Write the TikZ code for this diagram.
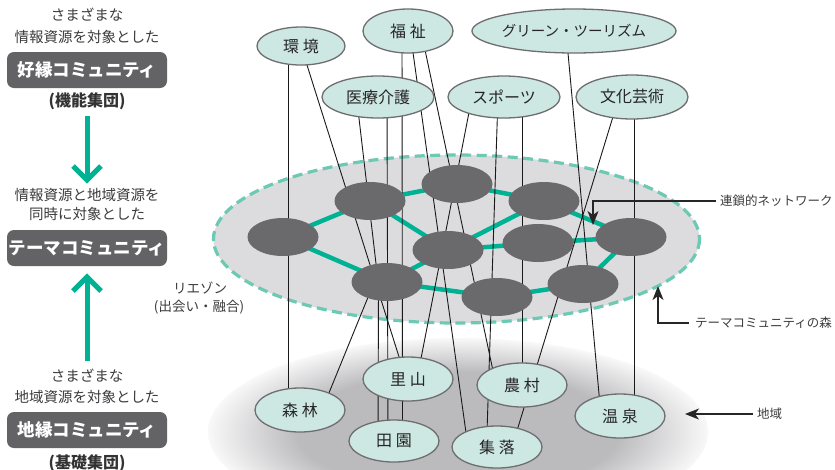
\documentclass[tikz,border=0pt]{standalone}
\usepackage{fontspec}
\setmainfont{Noto Sans CJK JP}
\usetikzlibrary{shapes.geometric,arrows.meta,calc}

\definecolor{themefill}{HTML}{CDE7E2}
\definecolor{themeedge}{HTML}{6E6E70}
\definecolor{nodegray}{HTML}{6A6A6D}
\definecolor{boxgray}{HTML}{636366}
\definecolor{tealline}{HTML}{00B294}
\definecolor{dashteal}{HTML}{6CC9B4}
\definecolor{forestfill}{HTML}{DCDCDE}
\definecolor{shadowc}{HTML}{BBBBBE}
\definecolor{txt}{HTML}{3C3C3E}

\pgfdeclareradialshading{regionshade}{\pgfpointorigin}{color(0bp)=(shadowc); color(16bp)=(shadowc); color(26bp)=(white); color(50bp)=(white)}

\pgfdeclarelayer{bg}
\pgfdeclarelayer{mid}
\pgfsetlayers{bg,mid,main}

\tikzset{
  theme/.style={ellipse, fill=themefill, draw=themeedge, line width=1.3pt, inner sep=0pt, text=black!85, font=\fontsize{16}{18}\selectfont},
  comm/.style={ellipse, fill=nodegray, inner sep=0pt, minimum width=71pt, minimum height=38pt},
  tealedge/.style={tealline, line width=4.5pt},
  conn/.style={black!90, line width=0.9pt},
  note/.style={text=txt, inner sep=0pt, font=\fontsize{14.5}{16}\selectfont},
  combox/.style={fill=boxgray, rounded corners=7pt, minimum width=160pt, minimum height=36pt, inner sep=0pt, text=white, font=\fontsize{17.5}{19}\selectfont\bfseries},
  grp/.style={text=black!80, inner sep=0pt, font=\fontsize{16}{18}\selectfont\bfseries},
  bigarrow/.style={tealline, line width=5pt, line join=miter},
  lab/.style={text=txt, inner sep=0pt, font=\fontsize{13.5}{15}\selectfont},
  rlab/.style={text=txt, inner sep=0pt, font=\fontsize{12.5}{14}\selectfont},
  leader/.style={black!85, line width=1.3pt, -{Stealth[length=14pt, width=11pt, inset=4pt]}},
}

\begin{document}
\begin{tikzpicture}[x=1pt,y=-1pt]
\useasboundingbox (0,0) rectangle (835,469);

\begin{pgfonlayer}{bg}
  \fill[white] (0,0) rectangle (835,469);
  \begin{scope}
    \clip (0,0) rectangle (835,469);
    \shade[shading=regionshade] (458,432) ellipse [x radius=250, y radius=94];
  \end{scope}
  \draw[fill=forestfill, draw=dashteal, line width=3.2pt, dash pattern=on 10pt off 5.5pt] (456.5,239) ellipse [x radius=243, y radius=84];
\end{pgfonlayer}

% theme ellipses (top)
\node[theme, minimum width=88pt, minimum height=38pt] (kankyo) at (301,46) {環 境};
\node[theme, minimum width=90pt, minimum height=44pt] (fukushi) at (408,31) {福 祉};
\node[theme, minimum width=188pt, minimum height=44pt, font=\fontsize{14.5}{16}\selectfont] (green) at (574,31) {グリーン・ツーリズム};
\node[theme, minimum width=112pt, minimum height=42pt] (iryo) at (378,97) {医療介護};
\node[theme, minimum width=112pt, minimum height=42pt] (sports) at (504,97) {スポーツ};
\node[theme, minimum width=112pt, minimum height=44pt] (bunka) at (632,97) {文化芸術};

% region ellipses (bottom)
\node[theme, minimum width=90pt, minimum height=44pt] (shinrin) at (300,410) {森 林};
\node[theme, minimum width=90pt, minimum height=44pt] (satoyama) at (408,379) {里 山};
\node[theme, minimum width=90pt, minimum height=42pt] (denen) at (394,441) {田 園};
\node[theme, minimum width=90pt, minimum height=44pt] (noson) at (522,385) {農 村};
\node[theme, minimum width=90pt, minimum height=42pt] (shuraku) at (497,447) {集 落};
\node[theme, minimum width=90pt, minimum height=44pt] (onsen) at (620,416) {温 泉};

% community nodes
\node[comm] (n1) at (283,237) {};
\node[comm] (n2) at (370,201) {};
\node[comm] (n3) at (457,184) {};
\node[comm] (n4) at (448,250) {};
\node[comm] (n5) at (387,282) {};
\node[comm] (n6) at (497,297) {};
\node[comm] (n7) at (544,201) {};
\node[comm] (n8) at (538,243) {};
\node[comm] (n9) at (631,237) {};
\node[comm] (n10) at (583,284) {};

\begin{pgfonlayer}{mid}
  % chained network
  \draw[tealedge] (n1.center) -- (n2.center);
  \draw[tealedge] (n1.center) -- (n5.center);
  \draw[tealedge] (n2.center) -- (n3.center);
  \draw[tealedge] (n2.center) -- (n4.center);
  \draw[tealedge] (n3.center) -- (n7.center);
  \draw[tealedge] (n4.center) -- (n5.center);
  \draw[tealedge] (n4.center) -- (n7.center);
  \draw[tealedge] (n4.center) -- (n8.center);
  \draw[tealedge] (n5.center) -- (n6.center);
  \draw[tealedge] (n7.center) -- (n9.center);
  \draw[tealedge] (n8.center) -- (n9.center);
  \draw[tealedge] (n9.center) -- (n10.center);
  \draw[tealedge] (n6.center) -- (n10.center);
  % theme -> region lines
  \draw[conn] ($(kankyo)+(-13,0)$) -- ($(shinrin)+(-12,0)$);
  \draw[conn] (kankyo.center) -- ($(satoyama)+(-2,0)$);
  \draw[conn] ($(fukushi)+(-6,0)$) -- ($(denen)+(8.5,0)$);
  \draw[conn] ($(fukushi)+(2,0)$) -- ($(shuraku)+(-29,0)$);
  \draw[conn] ($(fukushi)+(13,0)$) -- ($(noson)+(-26,0)$);
  \draw[conn] ($(iryo)+(9,0)$) -- ($(denen)+(-6,0)$);
  \draw[conn] ($(iryo)+(-21.5,0)$) -- ($(n5)+(-8.5,3)$) -- ($(denen)+(-16,0)$);
  \draw[conn] ($(sports)+(-32,0)$) -- ($(satoyama)+(9,0)$);
  \draw[conn] ($(sports)+(-6,0)$) -- ($(shuraku)+(-10.5,0)$);
  \draw[conn] ($(sports)+(18.5,0)$) -- ($(noson)+(0.5,0)$);
  \draw[conn] ($(green)+(-8,0)$) -- ($(onsen)+(-19,0)$);
  \draw[conn] ($(bunka)+(-13,0)$) -- ($(shuraku)+(15,0)$);
  \draw[conn] ($(bunka)+(2.5,0)$) -- ($(onsen)+(14.5,0)$);
  \draw[conn] ($(shinrin)+(22,0)$) -- ($(n5)+(-14,3)$);
\end{pgfonlayer}

% left column
\node[note] (t1a) at (87,15) {さまざまな};
\node[note] (t1b) at (87,37) {情報資源を対象とした};
\node[combox] (kouen) at (87,70) {好縁コミュニティ};
\node[grp] (kinou) at (87,101) {(機能集団)};

\node[note] (t2a) at (87,195) {情報資源と地域資源を};
\node[note] (t2b) at (87,214) {同時に対象とした};
\node[combox] (theme) at (87,248) {テーマコミュニティ};

\node[note] (t3a) at (87,376) {さまざまな};
\node[note] (t3b) at (87,397) {地域資源を対象とした};
\node[combox] (chien) at (87,430) {地縁コミュニティ};
\node[grp] (kiso) at (87,463) {(基礎集団)};

\coordinate (d1s) at (87,116);
\coordinate (d1e) at (87,180);
\draw[bigarrow] (d1s) -- (d1e);
\draw[bigarrow] (73,166) -- (d1e) -- (101,166);

\coordinate (u1s) at (87,361);
\coordinate (u1e) at (87,277);
\draw[bigarrow] (u1s) -- (u1e);
\draw[bigarrow] (73,291) -- (u1e) -- (101,291);

% liaison label
\node[lab] (liaison) at (200,288) {リエゾン};
\node[lab] (liaison2) at (199,307) {(出会い・融合)};

% right labels
\node[rlab, anchor=west] (rensa) at (720,201) {連鎖的ネットワーク};
\coordinate (rensatip) at (593,225);
\draw[leader] ($(rensa.west)+(-4,0)$) -| (rensatip);

\node[rlab, anchor=west] (morilab) at (695,323) {テーマコミュニティの森};
\coordinate (moritip) at (658,286);
\draw[leader] ($(morilab.west)+(-6,0)$) -| (moritip);

\node[rlab, anchor=west] (chiiki) at (757,414) {地域};
\coordinate (chiikitip) at (685,414);
\draw[leader] ($(chiiki.west)+(-4,0)$) -- (chiikitip);

\end{tikzpicture}
\end{document}
